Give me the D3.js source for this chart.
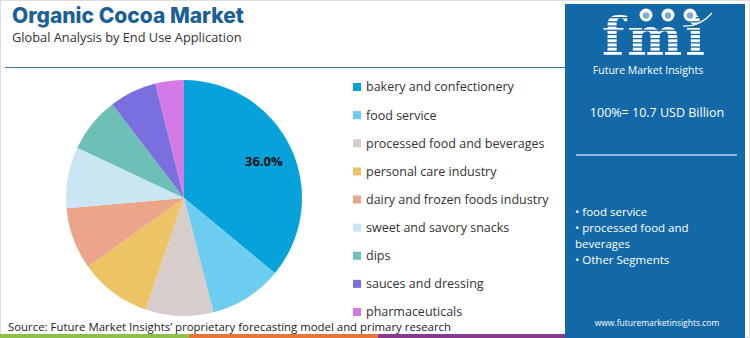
<!DOCTYPE html>
<html>
<head>
<meta charset="utf-8">
<script src="https://cdn.jsdelivr.net/npm/d3@7"></script>
<style>
  html, body { margin: 0; padding: 0; background: #fff; }
  svg { display: block; font-family: "Open Sans", "Noto Sans", sans-serif; }
</style>
</head>
<body>
<svg id="chart" width="750" height="338"></svg>
<script>
// End-use segments and their share of the market (%)
const categories = [
  "bakery and confectionery",
  "food service",
  "processed food and beverages",
  "personal care industry",
  "dairy and frozen foods industry",
  "sweet and savory snacks",
  "dips",
  "sauces and dressing",
  "pharmaceuticals"
];
const shares = [36.0, 10.0, 9.3, 9.8, 8.5, 8.4, 7.6, 6.5, 3.9];
const colors = ["#08a2db", "#6ccdf0", "#d7cdca", "#ecc466", "#eba58b", "#cbe6f3", "#6ebfb6", "#7a6fdf", "#d47ae6"];
const labelledIndex = 0;

const title = "Organic Cocoa Market";
const subtitle = "Global Analysis by End Use Application";
const totalNote = "100%= 10.7 USD Billion";
const panelBullets = ["• food service", "• processed food and", "beverages", "• Other Segments"];
const source = "Source: Future Market Insights’ proprietary forecasting model and primary research";
const website = "www.futuremarketinsights.com";
const stripeColors = ["#8dc04a", "#e8743a", "#8a3a8c"];

const svg = d3.select("#chart");
const W = 750, H = 338;

// Outer frame
svg.append("rect").attr("x", 0.5).attr("y", 0.5).attr("width", W - 1).attr("height", H - 1)
  .attr("fill", "#fff").attr("stroke", "#dedede");

// Heading
svg.append("text").attr("x", 12).attr("y", 23).text(title)
  .attr("font-size", 21).attr("font-weight", 800).attr("fill", "#1a5f9a")
  .attr("font-family", "Inter, 'Open Sans', sans-serif");
svg.append("text").attr("x", 12).attr("y", 41.5).text(subtitle)
  .attr("font-size", 12.8).attr("fill", "#333");

// Divider under heading
svg.append("line").attr("x1", 5).attr("x2", 566).attr("y1", 67.5).attr("y2", 67.5)
  .attr("stroke", "#3d78b2").attr("stroke-width", 1.2);

// Pie
const cx = 184, cy = 198, R = 118;
const pie = d3.pie().sort(null).value(d => d)(shares);
const arc = d3.arc().innerRadius(0).outerRadius(R);
const g = svg.append("g").attr("transform", `translate(${cx},${cy})`);
g.selectAll("path").data(pie).join("path")
  .attr("d", arc).attr("fill", (d, i) => colors[i]);

const labelArc = d3.arc().innerRadius(R * 0.72).outerRadius(R * 0.72);
const ld = pie[labelledIndex];
const [lx, ly] = labelArc.centroid(ld);
g.append("text").attr("x", lx + 3).attr("y", ly).attr("dy", "0.35em")
  .attr("text-anchor", "middle").attr("font-size", 13).attr("font-weight", 700)
  .attr("fill", "#111").text(d3.format(".1f")(shares[labelledIndex]) + "%");

// Legend
const legendY = d3.scalePoint().domain(categories).range([87, 312]);
const lg = svg.append("g");
categories.forEach((c, i) => {
  const y = legendY(c);
  lg.append("rect").attr("x", 353).attr("y", y - 4).attr("width", 8).attr("height", 8).attr("fill", colors[i]);
  lg.append("text").attr("x", 366).attr("y", y).attr("dy", "0.35em")
    .attr("font-size", 12.5).attr("fill", "#333").text(c);
});

// Source line
svg.append("text").attr("x", 8).attr("y", 331).text(source)
  .attr("font-size", 11.4).attr("fill", "#222");

// Bottom colour stripe
const stripeX = d3.scaleLinear().domain([0, 3]).range([0, 567]);
stripeColors.forEach((c, i) => {
  svg.append("rect").attr("x", stripeX(i)).attr("y", 334).attr("width", stripeX(i + 1) - stripeX(i))
    .attr("height", 4).attr("fill", c);
});

// Side panel
const px = 565, pw = 180;
svg.append("rect").attr("x", px).attr("y", 4).attr("width", pw).attr("height", 334).attr("fill", "#1368a7");

// Logo: striped "fmi" letters
const logo = svg.append("g");
const maskId = "logo-stripes";
const defs = svg.append("defs");
const mask = defs.append("mask").attr("id", maskId);
mask.append("rect").attr("x", px).attr("y", 0).attr("width", pw).attr("height", 80).attr("fill", "#fff");
d3.range(17, 58, 4.2).forEach(y => {
  mask.append("rect").attr("x", px).attr("y", y).attr("width", pw).attr("height", 1.3).attr("fill", "#000");
});
logo.append("text").attr("x", 655).attr("y", 55).attr("text-anchor", "middle")
  .attr("font-family", "'DejaVu Serif', 'Liberation Serif', serif").attr("font-weight", 700)
  .attr("font-size", 52).attr("letter-spacing", 3).attr("fill", "#fff")
  .attr("mask", `url(#${maskId})`).text("fmi");
[646, 668, 690].forEach(x => {
  logo.append("circle").attr("cx", x).attr("cy", 15).attr("r", 6.5).attr("fill", "#fff");
  logo.append("circle").attr("cx", x).attr("cy", 15.5).attr("r", 3.2).attr("fill", "#1368a7").attr("opacity", 0.55);
});
logo.append("path").attr("d", "M 683 26 Q 700 27 712 13").attr("fill", "none").attr("stroke", "#fff").attr("stroke-width", 1.2);
logo.append("text").attr("x", 648).attr("y", 74).attr("text-anchor", "middle")
  .attr("font-size", 10.5).attr("fill", "#fff").text("Future Market Insights");

// Panel text
svg.append("text").attr("x", 657).attr("y", 117).attr("text-anchor", "middle")
  .attr("font-size", 12.5).attr("fill", "#fff").text(totalNote);
svg.append("line").attr("x1", 576).attr("x2", 737).attr("y1", 155).attr("y2", 155)
  .attr("stroke", "#b9d3ea").attr("stroke-width", 1.3);
const bulletY = d3.scalePoint().domain(d3.range(panelBullets.length)).range([212, 260]);
panelBullets.forEach((t, i) => {
  svg.append("text").attr("x", 575).attr("y", bulletY(i)).attr("dy", "0.35em")
    .attr("font-size", 11.5).attr("fill", "#fff").text(t);
});
svg.append("text").attr("x", 657).attr("y", 326).attr("text-anchor", "middle")
  .attr("font-size", 8.5).attr("fill", "#fff").text(website);
</script>
</body>
</html>
